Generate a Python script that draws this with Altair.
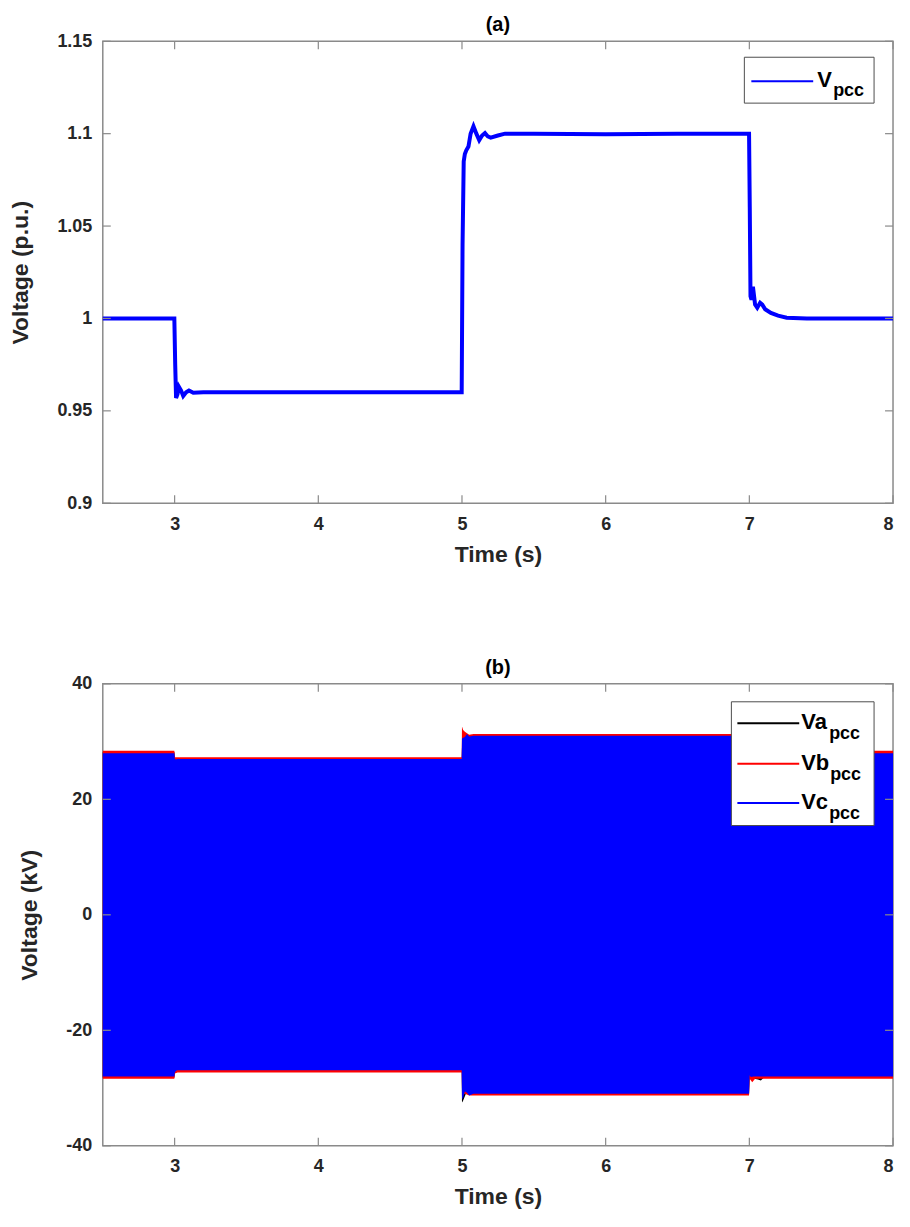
import altair as alt
import pandas as pd

# ---------------- panel (a): Vpcc (p.u.) ----------------
A_T = [2.5, 2.998, 3.004, 3.010, 3.020, 3.030, 3.045, 3.060, 3.080, 3.100, 3.130, 3.200, 4.000, 4.998,
       5.004, 5.012, 5.020, 5.030, 5.045, 5.060, 5.080, 5.100, 5.120, 5.140, 5.160, 5.180, 5.200, 5.250,
       5.300, 5.500, 6.000, 6.500, 6.998,
       7.003, 7.008, 7.015, 7.025, 7.040, 7.055, 7.075, 7.090, 7.110, 7.150, 7.200, 7.260, 7.400, 8.0]
A_V = [1.000, 1.000, 0.975, 0.957, 0.959, 0.963, 0.961, 0.958, 0.960, 0.961, 0.9598, 0.960, 0.960, 0.960,
       1.040, 1.085, 1.089, 1.091, 1.093, 1.100, 1.104, 1.100, 1.0965, 1.099, 1.1003, 1.0985, 1.0978, 1.099,
       1.100, 1.100, 1.0997, 1.100, 1.100,
       1.060, 1.012, 1.0101, 1.0172, 1.0075, 1.0058, 1.0085, 1.0075, 1.005, 1.003, 1.0015, 1.0004, 1.000, 1.000]

# ---------------- panel (b): phase voltage envelopes (kV) ----------------
VA_T = [2.5, 2.998, 3.002, 4.998, 5.000, 5.006, 5.030, 5.080, 6.998, 7.002, 7.060, 7.080, 7.100, 8.0]
VA_HI = [28.2, 28.2, 27.1, 27.1, 29.0, 30.5, 30.8, 30.9, 30.9, 28.2, 28.2, 28.2, 28.2, 28.2]
VA_LO = [-28.2, -28.2, -27.2, -27.2, -32.5, -32.3, -30.8, -31.0, -31.0, -28.2, -28.5, -28.7, -28.2, -28.2]

VB_T = [2.5, 2.998, 3.002, 3.020, 4.998, 5.000, 5.008, 5.020, 5.050, 5.080, 6.998, 7.002, 7.020, 7.040, 8.0]
VB_HI = [28.4, 28.4, 27.3, 27.3, 27.3, 32.6, 32.0, 31.7, 31.2, 31.3, 31.3, 28.4, 28.4, 28.4, 28.4]
VB_LO = [-28.4, -28.4, -27.5, -27.3, -27.3, -30.0, -31.2, -31.0, -31.3, -31.3, -31.3, -28.4, -29.0, -28.4, -28.4]

VC_T = [2.5, 2.998, 3.002, 3.010, 3.020, 4.998, 5.000, 5.005, 5.020, 5.035, 5.050, 5.080, 6.998, 7.002,
        7.010, 7.030, 8.0]
VC_HI = [28.0, 28.0, 27.0, 26.9, 27.0, 27.0, 30.5, 30.6, 30.8, 31.3, 30.9, 31.0, 31.0, 28.1, 28.0, 28.0, 28.0]
VC_LO = [-28.0, -28.0, -27.3, -27.0, -26.9, -26.9, -31.5, -32.0, -30.6, -30.8, -31.3, -31.0, -31.0, -27.8,
         -28.1, -28.0, -28.0]

X_TICKS = [3, 4, 5, 6, 7, 8]
YA_TICKS = [0.9, 0.95, 1, 1.05, 1.1, 1.15]
YB_TICKS = [-40, -20, 0, 20, 40]

LEG_A = ["V"]
LEG_B = ["Va", "Vb", "Vc"]
LEG_SUB = "pcc"
COL_A = "#0000ff"
COLS_B = ["#000000", "#ff0000", "#0000ff"]

# ---------------- styling ----------------
W, H = 792, 463
FONT = "Liberation Sans"
FRAME = "#8a8a8a"
TICK_LEN = 8
LEG_FS, SUB_FS = 22, 18
LX = W - 798  # legend shift so it keeps its place against the right frame

one = pd.DataFrame({"k": [0]})
xt_df = pd.DataFrame({"t": X_TICKS})

X_AXIS = alt.Axis(values=X_TICKS, title="Time (s)", labelExpr="'' + datum.value", labelFlush=True)


def xenc():
    return alt.X("t:Q", scale=alt.Scale(domain=[2.5, 8], nice=False, zero=False), axis=X_AXIS)


def yenc(field, ydomain, yvals, title):
    return alt.Y(field, scale=alt.Scale(domain=ydomain, nice=False, zero=False),
                 axis=alt.Axis(values=yvals, title=title, labelExpr="'' + datum.value"))


def ticks_layers(ydomain, yvals, title):
    yt_df = pd.DataFrame({"v": yvals})
    r = alt.Chart(xt_df).mark_rule(color=FRAME, strokeWidth=1.2)
    ry = alt.Chart(yt_df).mark_rule(color=FRAME, strokeWidth=1.2)
    ye = yenc("v:Q", ydomain, yvals, title)
    return [
        r.encode(x=xenc(), y=alt.value(H), y2=alt.value(H - TICK_LEN)),
        r.encode(x=xenc(), y=alt.value(0), y2=alt.value(TICK_LEN)),
        ry.encode(y=ye, x=alt.value(0), x2=alt.value(TICK_LEN)),
        ry.encode(y=ye, x=alt.value(W - TICK_LEN), x2=alt.value(W)),
    ]


def legend_layers(box, rows, colors, line_x, row_y, text_x, base_dy, sub_dx, sub_dy):
    x0, x1, y0, y1 = box
    layers = [alt.Chart(one).mark_rect(fill="white", stroke="#4d4d4d", strokeWidth=1).encode(
        x=alt.value(x0 + LX), x2=alt.value(x1 + LX), y=alt.value(y0), y2=alt.value(y1))]
    for i, (lab, col) in enumerate(zip(rows, colors)):
        yy = row_y[i]
        layers.append(alt.Chart(one).mark_rule(color=col, strokeWidth=2).encode(
            x=alt.value(line_x[0] + LX), x2=alt.value(line_x[1] + LX), y=alt.value(yy)))
        layers.append(alt.Chart(one).mark_text(
            text=lab, font=FONT, fontSize=LEG_FS, fontWeight="bold", align="left",
            baseline="alphabetic", color="black").encode(
            x=alt.value(text_x + LX), y=alt.value(yy + base_dy)))
        layers.append(alt.Chart(one).mark_text(
            text=LEG_SUB, font=FONT, fontSize=SUB_FS, fontWeight="bold", align="left",
            baseline="alphabetic", color="black").encode(
            x=alt.value(text_x + sub_dx[i] + LX), y=alt.value(yy + sub_dy)))
    return layers


def ptitle(s):
    return alt.TitleParams(s, font=FONT, fontSize=20, fontWeight="bold", offset=-3,
                           frame="group", anchor="middle", color="black")


# ---------------- panel (a) ----------------
df_a = pd.DataFrame({"t": A_T, "v": A_V})
line_a = alt.Chart(df_a).mark_line(color=COL_A, strokeWidth=4).encode(
    x=xenc(), y=yenc("v:Q", [0.9, 1.15], YA_TICKS, "Voltage (p.u.)"))
panel_a = alt.layer(
    line_a,
    *ticks_layers([0.9, 1.15], YA_TICKS, "Voltage (p.u.)"),
    *legend_layers((649, 779, 16, 62), LEG_A, [COL_A], (656, 718), [40], 722, 6, [16], 15),
).properties(width=W, height=H, title=ptitle("(a)"))


# ---------------- panel (b) ----------------
def env(ts, hi, lo, col):
    df = pd.DataFrame({"t": ts, "v": hi, "lo": lo})
    return alt.Chart(df).mark_area(color=col, opacity=1).encode(
        x=xenc(), y=yenc("v:Q", [-40, 40], YB_TICKS, "Voltage (kV)"), y2="lo:Q")


panel_b = alt.layer(
    env(VA_T, VA_HI, VA_LO, COLS_B[0]),
    env(VB_T, VB_HI, VB_LO, COLS_B[1]),
    env(VC_T, VC_HI, VC_LO, COLS_B[2]),
    *ticks_layers([-40, 40], YB_TICKS, "Voltage (kV)"),
    *legend_layers((636, 779, 18, 142), LEG_B, COLS_B, (642, 704), [39.5, 80, 119.5], 706, 6,
                   [28, 29, 28], 16),
).properties(width=W, height=H, title=ptitle("(b)"))

chart = alt.vconcat(panel_a, panel_b, spacing=90).properties(
    padding={"left": 1, "top": 5, "right": 0, "bottom": 0}
).configure_view(
    stroke=FRAME, strokeWidth=1.5
).configure_axis(
    domain=False, ticks=False, tickSize=0, grid=False,
    labelFont=FONT, labelFontSize=18, labelFontWeight="bold", labelColor="#262626",
    titleFont=FONT, titleFontSize=23, titleFontWeight="bold", titleColor="#262626",
).configure_axisX(
    labelPadding=12, titlePadding=10
).configure_axisY(
    labelPadding=11, titlePadding=24
)

chart.save("out.html", embed_options={"renderer": "svg", "actions": False})
